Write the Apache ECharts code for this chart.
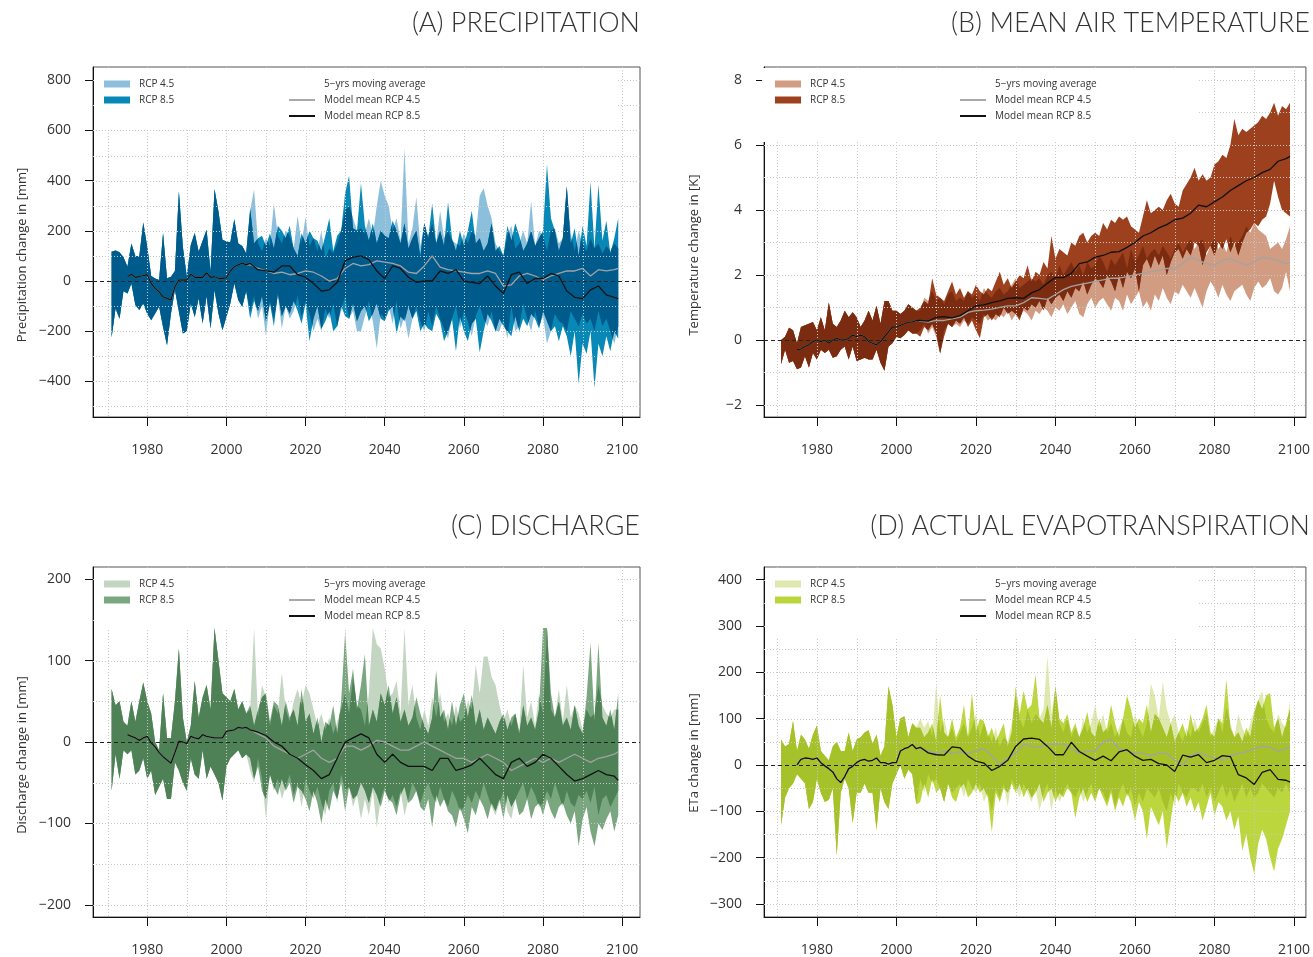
<!DOCTYPE html>
<html><head><meta charset="utf-8">
<script src="https://cdn.jsdelivr.net/npm/echarts@6/dist/echarts.min.js"></script>
<style>html,body{margin:0;padding:0;background:#fff}#c{width:1313px;height:957px}</style>
</head><body><div id="c"></div>
<script>
function range(a, b, s) { const r = []; for (let v = a; v <= b; v += (s || 1)) r.push(v); return r; }
const histYears = range(1971, 2005);
const futYears = range(2006, 2099);
const histMeanYears = range(1975, 2005);
const futMeanYears = range(2006, 2098, 2).concat([2099]);
const xTickLabels = [1980, 2000, 2020, 2040, 2060, 2080, 2100];
const xGridYears = range(1970, 2100, 10);

// (A) precipitation
const precipHistHi = [117,122,115,95,57,150,100,100,233,137,20,10,4,191,11,17,40,357,137,17,144,191,117,160,204,37,367,277,164,157,155,246,150,140,110];
const precipHistLo = [-225,-110,-150,-40,-50,-10,-96,-116,-90,-130,-156,-129,-103,-183,-256,-129,-36,-122,-209,-200,-89,-143,-69,-169,-60,-189,-36,-129,-196,-143,-89,-9,-76,-103,-40];
const precipHistMean = [17,27,15,17,22,25,-9,-29,-43,-63,-69,-75,-23,4,4,4,27,15,15,15,33,15,17,11,11,13,40,57,64,71,64];
const precipHi45 = [280,365,150,120,170,140,310,180,150,200,180,130,260,150,255,140,170,120,200,90,130,110,150,200,280,300,250,200,210,190,250,180,300,400,340,300,200,250,160,530,150,210,335,140,230,180,230,150,280,170,200,160,150,140,190,150,200,180,340,370,300,250,150,120,100,180,220,130,150,200,150,320,140,200,180,120,200,210,150,170,375,190,120,200,150,120,170,130,150,110,140,120,150,130];
const precipLo45 = [-120,-60,-150,-100,-220,-80,-150,-60,-190,-100,-150,-120,-60,-140,-80,-130,-200,-150,-200,-110,-150,-90,-180,-120,-60,-150,-120,-200,-200,-140,-80,-160,-270,-130,-150,-100,-170,-80,-190,-140,-230,-150,-100,-160,-200,-120,-180,-100,-150,-190,-230,-150,-100,-190,-120,-160,-220,-140,-100,-150,-180,-120,-200,-200,-150,-230,-100,-200,-180,-90,-150,-200,-120,-180,-140,-250,-200,-130,-160,-170,-200,-120,-150,-180,-130,-170,-150,-200,-120,-180,-150,-200,-250,-180];
const precipHi85 = [290,150,170,180,140,190,130,220,200,170,220,130,100,190,150,200,170,160,120,180,250,120,180,200,350,420,210,200,390,220,160,230,150,200,180,170,240,200,150,230,130,170,200,100,230,170,310,150,200,140,315,170,120,200,140,200,280,150,170,120,150,230,120,140,100,220,160,230,180,120,150,200,140,170,200,465,250,200,120,170,380,150,210,100,220,140,395,130,385,160,240,110,170,250];
const precipLo85 = [-150,-80,-120,-60,-160,-90,-180,-50,-140,-100,-130,-80,-120,-170,-90,-240,-150,-100,-190,-160,-120,-200,-180,-100,-140,-150,-90,-160,-120,-100,-160,-130,-90,-150,-160,-120,-100,-210,-140,-160,-100,-150,-120,-200,-170,-190,-200,-130,-160,-240,-200,-150,-280,-140,-200,-240,-170,-150,-285,-200,-130,-160,-200,-150,-180,-200,-220,-140,-200,-150,-180,-130,-150,-190,-120,-160,-200,-180,-240,-180,-220,-300,-200,-410,-250,-290,-200,-425,-250,-300,-220,-280,-200,-230];
const precipMean45 = [65,50,40,30,35,25,30,40,35,20,0,10,50,70,60,65,80,75,70,60,35,30,60,100,55,45,40,35,30,30,40,30,-20,-15,20,30,20,5,20,30,40,40,50,20,45,40,45,50];
const precipMean85 = [70,45,40,35,60,60,25,15,-10,-40,-35,-5,80,95,100,85,40,10,60,50,15,-5,0,0,40,30,45,0,-5,-10,20,-20,-50,25,35,-10,10,10,30,20,-40,-65,-70,-35,-20,-55,-65,-70];

// (B) mean air temperature
const tempHistHi = [0.0,0.1,0.38,0.3,-0.1,0.4,0.45,0.5,0.55,0.3,0.7,0.3,1.15,0.5,0.4,0.6,0.9,0.7,0.85,0.7,0.4,0.6,0.9,0.6,1.05,0.5,1.2,1.2,0.9,0.9,0.8,0.9,1.1,1.0,0.9];
const tempHistLo = [-0.75,-0.3,-0.7,-0.65,-0.9,-0.85,-0.5,-0.85,-0.4,-0.6,-0.3,-0.4,-0.3,-0.55,-0.5,-0.3,-0.2,-0.6,-0.2,-0.65,-0.6,-0.55,-0.6,-0.6,-0.3,-0.7,-0.95,-0.2,-0.1,0.1,0.05,0.15,0.3,0.2,0.2];
const tempHistMean = [-0.3,-0.28,-0.2,-0.15,-0.05,0.0,-0.05,0.0,-0.1,0.0,0.05,0.0,0.0,0.05,0.15,0.1,0.15,0.1,-0.05,-0.1,-0.15,-0.05,0.1,0.25,0.4,0.4,0.45,0.5,0.55,0.55,0.6];
const tempHi45 = [0.9,1.3,1.2,1.5,1.2,1.3,1.1,1.4,1.5,1.2,1.3,1.2,1.5,1.3,1.4,1.2,1.6,1.4,1.3,1.5,1.6,1.4,1.5,1.7,1.9,1.6,1.7,1.8,1.9,1.8,1.9,1.7,2.0,2.1,1.9,2.3,2.0,2.2,2.4,2.1,2.3,2.0,2.4,2.2,2.3,2.6,2.4,2.1,2.5,2.3,2.5,2.7,2.2,2.8,2.4,2.6,2.9,2.5,2.7,2.8,2.6,2.9,2.7,2.5,2.8,3.0,2.7,2.9,3.1,2.8,3.0,3.1,2.6,2.9,3.1,2.8,3.0,2.7,3.2,2.9,3.0,3.2,3.5,3.3,3.6,3.4,3.3,3.2,2.8,2.9,3.0,2.8,3.1,3.5];
const tempLo45 = [0.3,0.5,0.2,0.4,0.1,-0.45,0.3,0.5,0.4,0.5,0.4,0.6,0.5,0.7,0.6,0.5,0.8,0.6,0.7,0.6,0.8,0.7,0.9,0.6,0.8,0.7,0.9,0.8,0.6,0.9,0.8,1.0,0.9,0.7,1.0,0.9,1.1,0.8,1.0,1.2,0.8,0.7,1.1,1.3,1.0,1.2,1.3,1.1,0.9,1.3,1.2,0.9,1.4,1.1,1.3,1.5,1.0,1.2,0.9,1.4,1.2,1.6,1.3,1.1,1.5,1.4,1.7,1.5,1.3,1.6,1.3,1.0,1.5,1.8,1.6,1.3,1.7,1.4,1.2,1.5,1.6,1.7,1.4,1.2,1.6,1.8,1.6,1.7,1.9,1.5,1.4,1.6,2.1,1.5];
const tempHi85 = [1.0,1.2,1.1,1.9,1.4,1.3,1.2,1.5,1.8,1.4,1.6,1.3,1.5,1.4,1.7,1.5,1.4,1.6,1.5,1.8,2.1,1.7,1.9,1.6,1.8,2.0,1.9,2.3,1.8,2.1,2.0,2.4,2.2,3.2,2.5,2.8,2.7,2.6,3.0,2.9,3.2,3.3,3.0,3.2,3.3,3.2,3.6,3.4,3.7,3.6,3.8,3.7,3.8,3.5,3.4,3.3,3.8,4.3,3.9,4.0,4.1,4.0,4.3,4.5,4.2,4.1,4.6,4.8,5.0,5.3,4.9,5.1,4.9,5.0,5.4,5.5,5.7,5.6,6.0,6.8,6.3,6.5,6.4,6.5,6.6,6.7,6.9,6.8,7.0,7.3,6.9,7.2,7.1,7.3];
const tempLo85 = [0.1,0.4,0.3,0.5,0.2,-0.4,0.1,0.5,0.4,0.6,0.5,0.7,0.4,0.6,0.3,0.05,0.7,0.8,0.6,0.8,0.7,1.0,0.8,0.9,0.8,0.6,1.0,0.9,1.1,1.0,1.2,0.9,1.3,1.1,1.3,1.4,1.2,1.5,1.3,1.6,1.5,1.8,1.4,1.7,1.9,1.8,1.6,2.0,1.8,1.5,2.0,1.6,2.1,1.9,2.2,1.5,2.3,2.5,2.2,2.6,2.3,2.6,2.0,2.4,2.7,2.8,2.5,2.8,2.6,3.0,2.9,2.3,2.7,2.9,2.6,3.0,2.8,3.1,2.7,3.0,2.6,3.0,3.3,3.4,3.6,3.5,3.7,3.8,4.2,4.9,4.4,4.0,3.9,3.8];
const tempMean45 = [0.58,0.55,0.6,0.6,0.65,0.7,0.85,0.9,0.92,0.95,1.0,1.05,1.05,1.15,1.3,1.28,1.25,1.4,1.55,1.65,1.7,1.75,1.8,1.85,1.9,1.9,1.95,2.0,2.05,2.1,2.15,2.2,2.2,2.35,2.55,2.45,2.35,2.3,2.45,2.5,2.4,2.3,2.4,2.55,2.5,2.45,2.35,2.4];
const tempMean85 = [0.6,0.58,0.7,0.72,0.68,0.75,0.9,1.05,1.08,1.15,1.2,1.28,1.3,1.28,1.45,1.55,1.75,1.92,1.92,2.05,2.35,2.4,2.55,2.6,2.7,2.72,2.85,3.0,3.2,3.3,3.45,3.55,3.7,3.75,3.9,4.15,4.1,4.25,4.4,4.6,4.75,4.9,5.0,5.15,5.25,5.5,5.58,5.65];

// (C) discharge
const dischHistHi = [65,45,50,25,20,50,25,50,73,50,35,0,-10,60,5,5,50,115,30,0,20,75,30,55,70,40,140,100,60,55,50,65,40,50,35];
const dischHistLo = [-60,-15,-45,-10,-15,-10,-40,-35,-20,-45,-35,-65,-55,-45,-70,-70,-25,-35,-50,-60,-20,-40,-45,-10,-45,-30,-40,-50,-72,-30,-20,-15,-10,-20,-15];
const dischHistMean = [9,7,5,2,5,7,-1,-6,-13,-18,-22,-26,-13,1,0,-2,7,5,4,9,7,6,5,5,5,13,14,15,18,17,18];
const dischHi45 = [40,140,30,70,55,20,45,35,85,40,25,50,65,45,70,60,40,20,35,15,30,10,25,40,60,35,80,45,40,20,60,140,120,115,90,55,60,75,35,140,45,70,30,15,40,20,55,30,60,25,35,20,45,25,30,50,40,95,60,105,105,80,70,45,25,40,20,35,15,95,30,50,20,60,35,140,40,30,65,25,70,30,45,35,15,40,30,35,70,45,35,30,40,40];
const dischLo45 = [-35,-50,-20,-45,-95,-40,-60,-45,-70,-55,-40,-65,-50,-80,-45,-60,-70,-55,-75,-90,-60,-50,-75,-40,-60,-55,-80,-65,-95,-70,-90,-60,-105,-70,-55,-75,-65,-80,-60,-90,-70,-50,-60,-75,-60,-50,-65,-75,-55,-70,-80,-60,-70,-85,-80,-65,-75,-60,-70,-50,-65,-80,-90,-75,-60,-85,-95,-70,-60,-50,-70,-55,-65,-80,-75,-60,-70,-50,-65,-80,-60,-75,-80,-65,-70,-60,-75,-55,-90,-70,-65,-80,-70,-60];
const dischHi85 = [45,20,40,55,60,25,50,45,20,50,30,40,20,65,25,35,10,30,0,25,20,45,10,50,135,60,90,40,70,108,20,40,25,60,45,70,35,55,25,40,20,30,55,35,20,10,30,88,30,40,15,50,20,45,60,30,58,20,40,15,30,20,10,25,35,15,30,35,10,45,20,30,15,40,140,140,60,30,50,20,30,15,45,20,10,55,122,25,122,30,20,40,15,60];
const dischLo85 = [-20,-45,-30,-60,-70,-40,-55,-65,-45,-60,-50,-75,-55,-60,-70,-85,-60,-75,-100,-70,-85,-60,-70,-50,-85,-55,-70,-65,-50,-60,-75,-55,-65,-80,-60,-70,-75,-90,-65,-55,-75,-70,-60,-80,-85,-70,-105,-65,-80,-70,-85,-90,-105,-80,-95,-112,-80,-90,-70,-80,-95,-75,-85,-70,-95,-65,-80,-70,-90,-85,-70,-95,-80,-75,-90,-70,-85,-95,-80,-75,-90,-100,-85,-128,-95,-80,-110,-128,-100,-108,-95,-85,-110,-90];
const dischMean45 = [15,10,5,-5,-10,-15,-20,-15,-10,-20,-25,-20,-5,-5,-10,-5,2,0,-5,-10,-10,-5,0,-5,-10,-15,-20,-20,-25,-20,-15,-20,-25,-35,-30,-25,-20,-25,-20,-25,-20,-15,-20,-25,-20,-18,-15,-12];
const dischMean85 = [15,12,8,0,-5,-15,-20,-28,-35,-45,-40,-20,0,5,10,5,-15,-25,-15,-25,-30,-30,-30,-35,-20,-20,-35,-32,-28,-20,-30,-40,-45,-25,-20,-30,-25,-15,-20,-30,-40,-48,-45,-40,-35,-40,-42,-47];

// (D) actual evapotranspiration
const etaHistHi = [55,40,45,95,30,65,55,35,65,85,30,20,10,40,50,30,30,70,30,55,60,70,75,45,65,20,40,170,130,60,100,105,60,90,80];
const etaHistLo = [-130,-70,-50,-40,-20,-30,-40,-95,-80,-30,-60,-80,-75,-50,-195,-60,-30,-50,-125,-60,-60,-40,-60,-60,-140,-50,-80,-95,-40,-20,0,-30,-10,-20,-85];
const etaHistMean = [0,12,15,14,12,15,5,-2,-8,-15,-30,-38,-25,-8,-3,5,10,12,8,10,15,5,5,2,5,5,30,35,38,44,35];
const etaHi45 = [100,80,95,60,175,70,100,60,80,50,70,90,60,80,110,60,90,70,50,80,40,60,50,90,150,100,80,120,90,110,100,120,235,110,170,90,70,100,60,80,60,100,70,90,130,80,110,70,90,60,80,100,70,60,110,80,60,90,175,150,100,180,120,90,110,70,50,80,60,100,70,90,110,60,80,100,70,125,90,60,110,80,60,90,120,140,160,100,80,70,110,90,80,140];
const etaLo45 = [-30,-60,-20,-40,-30,-50,-80,-40,-60,-50,-40,-70,-30,-50,-60,-40,-80,-60,-100,-50,-70,-40,-90,-30,-50,-70,-40,-60,-80,-50,-100,-60,-40,-100,-50,-80,-60,-40,-60,-70,-50,-80,-60,-40,-70,-50,-60,-80,-50,-90,-60,-40,-70,-50,-90,-60,-80,-50,-60,-70,-50,-80,-100,-60,-90,-40,-60,-70,-50,-50,-60,-40,-70,-50,-80,-60,-40,-70,-50,-80,-60,-40,-70,-50,-70,-60,-40,-50,-60,-70,-50,-60,-40,-60];
const etaHi85 = [80,60,70,90,50,150,70,60,100,60,80,130,60,155,70,100,95,60,80,50,70,90,40,70,170,110,160,120,130,195,100,90,130,80,170,100,90,110,70,90,60,80,115,70,60,100,70,80,130,90,60,100,150,120,80,100,90,130,70,110,100,80,60,90,50,70,90,60,110,70,80,100,130,70,60,100,90,185,80,60,70,50,80,60,110,140,120,150,155,80,100,60,90,120];
const etaLo85 = [-80,-40,-70,-30,-60,-50,-80,-40,-70,-80,-50,-40,-70,-60,-40,-60,-50,-70,-145,-60,-80,-50,-60,-40,-60,-40,-70,-50,-70,-60,-40,-80,-60,-50,-80,-60,-70,-50,-60,-115,-70,-50,-80,-60,-80,-50,-70,-90,-60,-100,-70,-90,-60,-80,-120,-80,-100,-160,-90,-110,-130,-100,-180,-120,-60,-80,-60,-90,-70,-100,-80,-120,-90,-60,-110,-80,-90,-120,-100,-140,-110,-185,-150,-200,-235,-170,-140,-160,-200,-230,-180,-160,-130,-100];
const etaMean45 = [35,30,25,30,25,28,25,30,35,20,0,15,25,45,40,38,45,45,45,35,25,30,30,50,55,35,30,25,25,20,25,25,10,0,20,28,20,15,10,20,25,28,35,40,38,30,35,38];
const etaMean85 = [38,26,22,21,39,37,19,8,4,-12,-3,10,40,56,58,55,40,22,22,49,29,19,10,19,9,28,33,19,10,12,3,0,-14,21,17,22,5,10,20,18,-21,-28,-42,-16,-10,-31,-33,-37];

const panels = [
  { title: '(A) PRECIPITATION', yName: 'Precipitation change in [mm]',
    histHi: precipHistHi, histLo: precipHistLo, histMean: precipHistMean,
    hi45: precipHi45, lo45: precipLo45, hi85: precipHi85, lo85: precipLo85, mean45: precipMean45, mean85: precipMean85,
    yTicks: [-400, -200, 0, 200, 400, 600, 800], yGrid: range(-500, 800, 100),
    left: 93, top: 67, width: 547, xMin: 1966.3, xMax: 2104.5, yMin: -542, yMax: 853,
    c45: '#8cbfdc', c85: '#0888b6', cov: '#005b8d',
    box: [94, 68, 524, 61], nameX: 22, nameY: 255, titleRight: 673, titleTop: 10 },
  { title: '(B) MEAN AIR TEMPERATURE', yName: 'Temperature change in [K]',
    histHi: tempHistHi, histLo: tempHistLo, histMean: tempHistMean,
    hi45: tempHi45, lo45: tempLo45, hi85: tempHi85, lo85: tempLo85, mean45: tempMean45, mean85: tempMean85,
    yTicks: [-2, 0, 2, 4, 6, 8], yGrid: range(-2, 8, 1),
    left: 764, top: 67, width: 542, xMin: 1966.7, xMax: 2103.0, yMin: -2.37, yMax: 8.4,
    c45: '#d19c82', c85: '#9c401d', cov: '#7b2c10',
    box: [762, 68, 435, 74], nameX: 694, nameY: 255, titleRight: 3, titleTop: 10 },
  { title: '(C) DISCHARGE', yName: 'Discharge change in [mm]',
    histHi: dischHistHi, histLo: dischHistLo, histMean: dischHistMean,
    hi45: dischHi45, lo45: dischLo45, hi85: dischHi85, lo85: dischLo85, mean45: dischMean45, mean85: dischMean85,
    yTicks: [-200, -100, 0, 100, 200], yGrid: range(-200, 200, 50),
    left: 93, top: 567, width: 547, xMin: 1966.3, xMax: 2104.5, yMin: -215, yMax: 215,
    c45: '#c3d6c2', c85: '#7aa77f', cov: '#4e8256',
    box: [94, 568, 524, 60], nameX: 22, nameY: 755, titleRight: 673, titleTop: 513 },
  { title: '(D) ACTUAL EVAPOTRANSPIRATION', yName: 'ETa change in [mm]',
    histHi: etaHistHi, histLo: etaHistLo, histMean: etaHistMean,
    hi45: etaHi45, lo45: etaLo45, hi85: etaHi85, lo85: etaLo85, mean45: etaMean45, mean85: etaMean85,
    yTicks: [-300, -200, -100, 0, 100, 200, 300, 400], yGrid: range(-300, 400, 50),
    left: 764, top: 567, width: 542, xMin: 1966.7, xMax: 2103.0, yMin: -328, yMax: 427,
    c45: '#dfe9ae', c85: '#bcd63e', cov: '#a5c22a',
    box: [765, 568, 432, 69], nameX: 694, nameY: 753, titleRight: 3, titleTop: 513 }
];

// exact intersection of two bands (geometry only)
function overlapBand(xs, hA, lA, hB, lB) {
  const X = [], U = [], L = [];
  const push = (x, a, b, c, d) => { const u = Math.min(a, c); let l = Math.max(b, d); if (l > u) l = u; X.push(x); U.push(u); L.push(l); };
  for (let i = 0; i < xs.length; i++) {
    push(xs[i], hA[i], lA[i], hB[i], lB[i]);
    if (i === xs.length - 1) break;
    const ts = [];
    [[hA, hB], [lA, lB], [hA, lB], [hB, lA]].forEach(([p, q]) => {
      const d0 = p[i] - q[i], d1 = p[i + 1] - q[i + 1];
      if (d0 * d1 < 0) ts.push(d0 / (d0 - d1));
    });
    ts.sort((a, b) => a - b);
    ts.forEach(t => {
      const f = arr => arr[i] + (arr[i + 1] - arr[i]) * t;
      push(xs[i] + (xs[i + 1] - xs[i]) * t, f(hA), f(lA), f(hB), f(lB));
    });
  }
  return { X, U, L };
}

function bandSeries(idx, xs, hi, lo, color, z) {
  return {
    type: 'custom', xAxisIndex: idx, yAxisIndex: idx, z: z, silent: true, clip: true,
    data: [[xs[0], hi[0]]], encode: { x: 0, y: 1 },
    renderItem: function (params, api) {
      const pts = [];
      for (let i = 0; i < xs.length; i++) pts.push(api.coord([xs[i], hi[i]]));
      for (let i = xs.length - 1; i >= 0; i--) pts.push(api.coord([xs[i], lo[i]]));
      return { type: 'polygon', shape: { points: pts }, style: { fill: color } };
    }
  };
}

function gridSeries(idx, p) {
  return {
    type: 'custom', xAxisIndex: idx, yAxisIndex: idx, z: 4, silent: true,
    data: [[2000, 0]], encode: { x: 0, y: 1 },
    renderItem: function (params, api) {
      const cs = params.coordSys; const ch = [];
      xGridYears.forEach(yr => {
        const x = Math.round(api.coord([yr, 0])[0]) + 0.5;
        ch.push({ type: 'line', shape: { x1: x, y1: cs.y, x2: x, y2: cs.y + cs.height }, style: { stroke: '#c9c9c9', lineWidth: 1, lineDash: [1, 2] } });
      });
      p.yGrid.filter(v => v !== 0).forEach(v => {
        const y = Math.round(api.coord([2000, v])[1]) + 0.5;
        ch.push({ type: 'line', shape: { x1: cs.x, y1: y, x2: cs.x + cs.width, y2: y }, style: { stroke: '#c9c9c9', lineWidth: 1, lineDash: [1, 2] } });
      });
      return { type: 'group', children: ch };
    }
  };
}

function zeroSeries(idx) {
  return {
    type: 'custom', xAxisIndex: idx, yAxisIndex: idx, z: 5, silent: true,
    data: [[2000, 0]], encode: { x: 0, y: 1 },
    renderItem: function (params, api) {
      const cs = params.coordSys;
      const y = Math.round(api.coord([2000, 0])[1]) + 0.5;
      return { type: 'line', shape: { x1: cs.x, y1: y, x2: cs.x + cs.width, y2: y }, style: { stroke: '#222', lineWidth: 1.2, lineDash: [4, 3] } };
    }
  };
}

const fmtNum = v => String(v).replace('-', '\u2212');
const grids = [], xAxes = [], yAxes = [], series = [], titles = [], graphics = [];
const allYears = histYears.concat(futYears);
panels.forEach((p, i) => {
  grids.push({ left: p.left, top: p.top, width: p.width, height: 350, show: true, borderColor: '#555', borderWidth: 1, backgroundColor: 'transparent' });
  xAxes.push({ gridIndex: i, type: 'value', min: p.xMin, max: p.xMax, splitLine: { show: false },
    axisLine: { show: true, onZero: false, lineStyle: { color: '#111', width: 1 } },
    axisTick: { show: true, customValues: xTickLabels, length: 9, lineStyle: { color: '#111' } },
    axisLabel: { customValues: xTickLabels, margin: 26, fontSize: 14, color: '#333', fontFamily: 'Open Sans', formatter: v => String(v) } });
  yAxes.push({ gridIndex: i, type: 'value', min: p.yMin, max: p.yMax, splitLine: { show: false },
    axisLine: { show: true, onZero: false, lineStyle: { color: '#111', width: 1 } },
    axisTick: { show: true, customValues: p.yTicks, length: 8, lineStyle: { color: '#111' } },
    axisLabel: { customValues: p.yTicks, margin: 22, fontSize: 14, color: '#333', fontFamily: 'Open Sans', formatter: fmtNum } });

  const hi45 = p.histHi.concat(p.hi45), lo45 = p.histLo.concat(p.lo45);
  const hi85 = p.histHi.concat(p.hi85), lo85 = p.histLo.concat(p.lo85);
  const ov = overlapBand(allYears, hi45, lo45, hi85, lo85);
  series.push(bandSeries(i, allYears, hi45, lo45, p.c45, 1));
  series.push(bandSeries(i, allYears, hi85, lo85, p.c85, 2));
  series.push(bandSeries(i, ov.X, ov.U, ov.L, p.cov, 3));
  series.push(gridSeries(i, p));
  series.push(zeroSeries(i));
  const histPts = histMeanYears.map((y, k) => [y, p.histMean[k]]);
  series.push({ type: 'line', xAxisIndex: i, yAxisIndex: i, z: 6, silent: true, showSymbol: false,
    data: histPts.concat(futMeanYears.map((y, k) => [y, p.mean45[k]])), lineStyle: { color: '#a3a3a3', width: 1.3 } });
  series.push({ type: 'line', xAxisIndex: i, yAxisIndex: i, z: 7, silent: true, showSymbol: false,
    data: histPts.concat(futMeanYears.map((y, k) => [y, p.mean85[k]])), lineStyle: { color: '#111', width: 1.3 } });

  titles.push({ text: p.title, right: p.titleRight, top: p.titleTop, padding: 0,
    textStyle: { fontFamily: 'Lato', fontWeight: 300, fontSize: 27, color: '#333' } });

  const ox = p.left - 93, oy = p.top - 67;
  const tstyle = (text, x, y, size, extra) => Object.assign({ type: 'text', x: x, y: y, z: 60, silent: true,
    style: { text: text, fill: '#333', fontSize: size, fontFamily: 'Open Sans', textAlign: 'left', textVerticalAlign: 'middle', align: 'left', verticalAlign: 'middle' } }, extra || {});
  graphics.push({ type: 'rect', z: 50, silent: true, shape: { x: p.box[0], y: p.box[1], width: p.box[2], height: p.box[3] }, style: { fill: '#fff' } });
  graphics.push({ type: 'rect', z: 60, silent: true, shape: { x: 104 + ox, y: 80.5 + oy, width: 26, height: 7 }, style: { fill: p.c45 } });
  graphics.push({ type: 'rect', z: 60, silent: true, shape: { x: 104 + ox, y: 96.5 + oy, width: 26, height: 7 }, style: { fill: p.c85 } });
  graphics.push(tstyle('RCP 4.5', 139 + ox, 84 + oy, 10));
  graphics.push(tstyle('RCP 8.5', 139 + ox, 100 + oy, 10));
  graphics.push(tstyle('5\u2212yrs moving average', 324 + ox, 84 + oy, 10));
  graphics.push({ type: 'line', z: 60, silent: true, shape: { x1: 289 + ox, y1: 100 + oy, x2: 315 + ox, y2: 100 + oy }, style: { stroke: '#a8a8a8', lineWidth: 2 } });
  graphics.push({ type: 'line', z: 60, silent: true, shape: { x1: 289 + ox, y1: 116 + oy, x2: 315 + ox, y2: 116 + oy }, style: { stroke: '#111', lineWidth: 2 } });
  graphics.push(tstyle('Model mean RCP 4.5', 324 + ox, 100 + oy, 10));
  graphics.push(tstyle('Model mean RCP 8.5', 324 + ox, 116 + oy, 10));
  const nm = tstyle(p.yName, p.nameX, p.nameY, 13, { rotation: Math.PI / 2 });
  nm.style.textAlign = 'center'; nm.style.align = 'center';
  graphics.push(nm);
});

const chart = echarts.init(document.getElementById('c'), null, { renderer: 'canvas' });
chart.setOption({
  animation: false,
  backgroundColor: '#fff',
  title: titles,
  grid: grids,
  xAxis: xAxes,
  yAxis: yAxes,
  series: series,
  graphic: { elements: graphics }
});
</script>
</body></html>
